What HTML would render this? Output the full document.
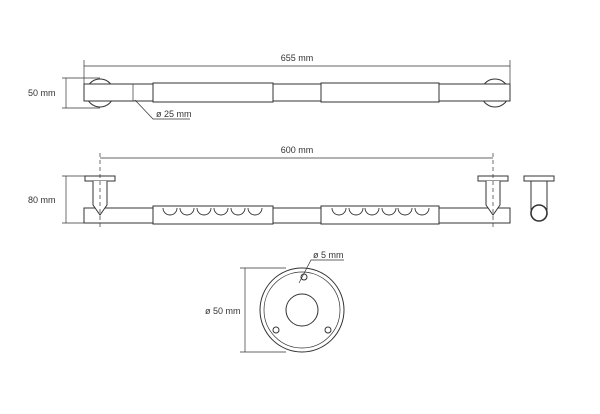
<!DOCTYPE html>
<html><head><style>body{margin:0;background:#fff}svg{display:block}</style></head><body>
<svg width="600" height="414" viewBox="0 0 600 414" xmlns="http://www.w3.org/2000/svg" font-family="Liberation Sans, sans-serif" font-size="9" fill="none" stroke="#333" stroke-width="1">
<!-- top view -->
<line x1="84" y1="66" x2="510" y2="66" stroke-width="0.7"/>
<line x1="84" y1="60" x2="84" y2="84" stroke-width="0.7"/>
<line x1="510" y1="60" x2="510" y2="84" stroke-width="0.7"/>
<text x="297" y="61" fill="#333" stroke="none" text-anchor="middle">655 mm</text>
<line x1="66" y1="78" x2="66" y2="108" stroke-width="0.7"/>
<line x1="62" y1="78" x2="100" y2="78" stroke-width="0.7"/>
<line x1="62" y1="108" x2="100" y2="108" stroke-width="0.7"/>
<text x="28" y="96" fill="#333" stroke="none">50 mm</text>
<circle cx="100" cy="93" r="14" fill="#fff"/>
<circle cx="495" cy="93" r="14" fill="#fff"/>
<rect x="84" y="84" width="426" height="17" fill="#fff"/>
<line x1="133" y1="84" x2="133" y2="101" stroke-width="0.7"/>
<rect x="153" y="83" width="120" height="19" fill="#fff"/>
<rect x="321" y="83" width="118" height="19" fill="#fff"/>
<polyline points="135,100 153,119 190,119" stroke-width="0.7"/>
<text x="156" y="117" fill="#333" stroke="none">ø 25 mm</text>
<!-- front view -->
<line x1="100" y1="158" x2="493" y2="158" stroke-width="0.7"/>
<text x="297" y="153" fill="#333" stroke="none" text-anchor="middle">600 mm</text>
<line x1="66" y1="176" x2="66" y2="223" stroke-width="0.7"/>
<line x1="62" y1="176" x2="85" y2="176" stroke-width="0.7"/>
<line x1="62" y1="223" x2="84" y2="223" stroke-width="0.7"/>
<text x="28" y="203" fill="#333" stroke="none">80 mm</text>
<rect x="84" y="208" width="426" height="15" fill="#fff"/>
<rect x="153" y="206" width="120" height="18" fill="#fff"/>
<rect x="321" y="206" width="118" height="18" fill="#fff"/>
<g stroke-width="0.9">
<path d="M163,208 a7,7 0 0 0 14,0 M180,208 a7,7 0 0 0 14,0 M197,208 a7,7 0 0 0 14,0 M214,208 a7,7 0 0 0 14,0 M231,208 a7,7 0 0 0 14,0 M248,208 a7,7 0 0 0 14,0"/>
<path d="M332,208 a7,7 0 0 0 14,0 M349,208 a7,7 0 0 0 14,0 M365,208 a7,7 0 0 0 14,0 M382,208 a7,7 0 0 0 14,0 M398,208 a7,7 0 0 0 14,0 M415,208 a7,7 0 0 0 14,0"/>
</g>
<rect x="85" y="176" width="30" height="5" fill="#fff"/>
<path d="M93,181 V205 L100,215 L107,205 V181" fill="#fff"/>
<rect x="478" y="176" width="30" height="5" fill="#fff"/>
<path d="M486,181 V205 L493,215 L500,205 V181" fill="#fff"/>
<line x1="100" y1="153" x2="100" y2="230" stroke-width="0.7" stroke-dasharray="4,3"/>
<line x1="493" y1="153" x2="493" y2="230" stroke-width="0.7" stroke-dasharray="4,3"/>
<!-- side view -->
<rect x="524" y="176" width="30" height="5"/>
<path d="M531,181 V210 M547,181 V210"/>
<circle cx="539" cy="213" r="8" fill="#fff" stroke-width="1.6"/>
<!-- rosette -->
<circle cx="302" cy="310" r="42"/>
<circle cx="302" cy="310" r="38" stroke-width="0.7"/>
<circle cx="302" cy="310" r="16"/>
<circle cx="304" cy="277" r="3"/>
<circle cx="276" cy="330" r="3"/>
<circle cx="328" cy="330" r="3"/>
<line x1="245" y1="268" x2="245" y2="352" stroke-width="0.7"/>
<line x1="240" y1="268" x2="286" y2="268" stroke-width="0.7"/>
<line x1="240" y1="352" x2="286" y2="352" stroke-width="0.7"/>
<text x="205" y="314" fill="#333" stroke="none">ø 50 mm</text>
<polyline points="299,283 311,260 344,260" stroke-width="0.7"/>
<text x="313" y="258" fill="#333" stroke="none">ø 5 mm</text>
</svg>
</body></html>
